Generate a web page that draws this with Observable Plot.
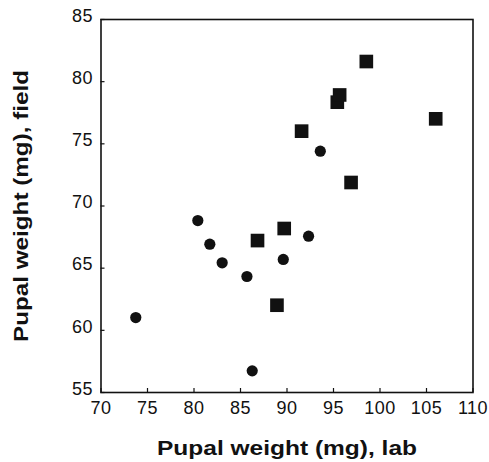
<!DOCTYPE html>
<html>
<head>
<meta charset="utf-8">
<script src="https://cdn.jsdelivr.net/npm/d3@7"></script>
<script src="https://cdn.jsdelivr.net/npm/@observablehq/plot@0.6"></script>
<style>
  html, body { margin: 0; padding: 0; background: #fff; }
  svg { display: block; }
</style>
</head>
<body>
<div id="chart"></div>
<script>
// Circles group
const circleLab   = [73.74, 80.41, 81.70, 83.03, 85.69, 86.26, 89.60, 92.32, 93.58];
const circleField = [61.03, 68.83, 66.93, 65.43, 64.33, 56.74, 65.70, 67.57, 74.41];
// Squares group
const squareLab   = [86.83, 88.92, 89.70, 91.57, 95.41, 95.66, 96.89, 98.53, 105.99];
const squareField = [67.22, 62.02, 68.19, 76.02, 78.35, 78.93, 71.89, 81.62, 77.01];

const xDomain = [70, 110];
const yDomain = [55, 85];
const xTicks = [70, 75, 80, 85, 90, 95, 100, 105, 110];
const yTicks = [55, 60, 65, 70, 75, 80, 85];
const xTitle = "Pupal weight (mg), lab";
const yTitle = "Pupal weight (mg), field";

const circles = circleLab.map((x, i) => ({x, y: circleField[i]}));
const squares = squareLab.map((x, i) => ({x, y: squareField[i]}));
const ink = "#111";

const chart = Plot.plot({
  width: 489,
  height: 462,
  marginLeft: 100.5,
  marginRight: 16.5,
  marginTop: 19,
  marginBottom: 70,
  style: {fontFamily: "'Liberation Sans', Arial, sans-serif", fontSize: "18px", color: ink, background: "#fff"},
  x: {domain: xDomain, ticks: xTicks},
  y: {domain: yDomain, ticks: yTicks},
  marks: [
    Plot.axisX(xTicks, {tickSize: 0, tickPadding: 9, label: null}),
    Plot.axisY(yTicks, {tickSize: 0, tickPadding: 8, dy: -3.5, label: null}),
    Plot.ruleX(xTicks, {x: d => d, y1: yDomain[0], y2: yDomain[0], insetTop: -4, stroke: ink, strokeWidth: 1.2}),
    Plot.ruleY(yTicks, {y: d => d, x1: xDomain[0], x2: xDomain[0], insetRight: -4, stroke: ink, strokeWidth: 1.2}),
    Plot.frame({stroke: ink, strokeWidth: 1.6}),
    Plot.dot(circles, {x: "x", y: "y", r: 5.6, fill: ink, stroke: "none"}),
    Plot.dot(squares, {x: "x", y: "y", r: 7.7, symbol: "square", fill: ink, stroke: "none"}),
    Plot.text([xTitle], {frameAnchor: "bottom", dy: 62, lineAnchor: "bottom", fontSize: 20, fontWeight: "bold", fill: ink, textAnchor: "middle"}),
    Plot.text([yTitle], {frameAnchor: "left", dx: -73, rotate: -90, lineAnchor: "bottom", fontSize: 20, fontWeight: "bold", fill: ink, textAnchor: "middle"})
  ]
});
document.getElementById("chart").appendChild(chart);

const svg = d3.select(chart);
svg.selectAll("text").each(function() {
  const t = d3.select(this);
  const s = t.text();
  if (s === xTitle) t.attr("textLength", 260).attr("lengthAdjust", "spacingAndGlyphs");
  else if (s === yTitle) t.attr("textLength", 272).attr("lengthAdjust", "spacingAndGlyphs");
  else if (/^\d+$/.test(s.trim())) {
    t.style("font-size", "18px").style("letter-spacing", "0.5px").style("fill", ink);
  }
});
</script>
</body>
</html>
